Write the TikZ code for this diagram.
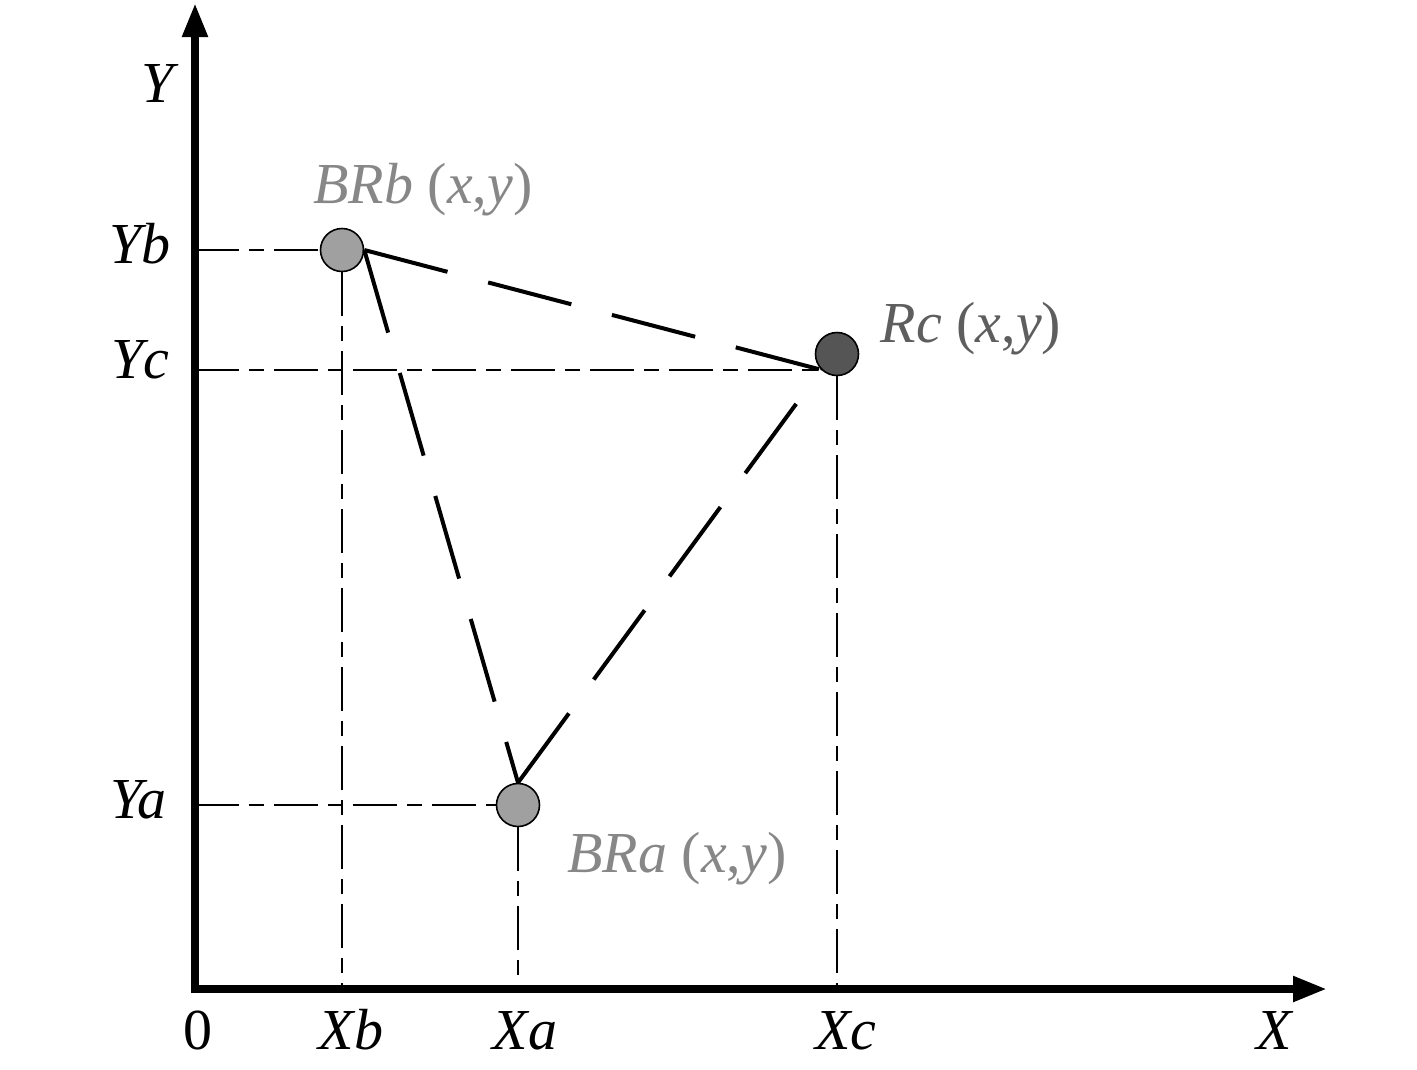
\documentclass[tikz,border=0pt]{standalone}
\usepackage{fontspec}
\setmainfont{Liberation Serif}
\usetikzlibrary{arrows.meta}
\definecolor{ptlight}{HTML}{A0A0A0}
\definecolor{ptdark}{HTML}{555555}
\definecolor{lblgray}{HTML}{878787}
\definecolor{lbldark}{HTML}{5E5E5E}
\begin{document}
\begin{tikzpicture}[x=1pt,y=-1pt,
  axisline/.style={line width=8pt, line join=miter},
  guide/.style={line width=2pt, dash pattern=on 44pt off 10pt on 15pt off 10pt},
  link/.style={line width=4pt, dash pattern=on 86pt off 42pt},
  pt/.style={circle, draw, line width=1.6pt, minimum size=43pt, inner sep=0pt},
  lbl/.style={font=\fontsize{58}{60}\selectfont, inner sep=0pt, anchor=base},
]
\useasboundingbox (0,0) rectangle (1417,1069);
\coordinate (O) at (195,989);
\coordinate (ytip) at (195,3);
\coordinate (xtip) at (1327,989);

\node[pt, fill=ptlight] (BRb) at (342,250) {};
\node[pt, fill=ptdark] (Rc) at (837,354) {};
\node[pt, fill=ptlight] (BRa) at (518,805) {};

% guide lines
\draw[guide] (O |- BRb) -- (BRb.west);
\draw[guide] (O |- Rc.225) -- (Rc.225);
\draw[guide] (O |- BRa) -- (BRa.west);
\draw[guide] (BRb.south) -- (BRb |- O);
\draw[guide] (BRa.south) -- (BRa |- O);
\draw[guide] (Rc.south) -- (Rc |- O);

% links
\draw[link] (BRb.east) -- (Rc.225);
\draw[link] (BRb.east) -- (BRa.north);
\draw[link] (BRa.north) -- (Rc.225);

% axes
\draw[axisline, {Triangle[length=34pt,width=24pt]}-{Triangle[length=34pt,width=24pt]}] (ytip) -- (O) -- (xtip);

% labels
\node[lbl] (ylab) at (160,102) {\textit{Y}};
\node[lbl] (yb) at (140,263) {\textit{Yb}};
\node[lbl] (yc) at (140,378) {\textit{Yc}};
\node[lbl] (ya) at (138,818) {\textit{Ya}};
\node[lbl] (zero) at (198,1049) {0};
\node[lbl] (xb) at (351,1049) {\textit{Xb}};
\node[lbl] (xa) at (525,1049) {\textit{Xa}};
\node[lbl] (xc) at (846,1049) {\textit{Xc}};
\node[lbl] (xlab) at (1275,1049) {\textit{X}};
\node[lbl, text=lblgray] (lbrb) at (423,203) {\textit{BRb} (\textit{x},\textit{y})};
\node[lbl, text=lbldark] (lrc) at (971,342) {\textit{Rc} (\textit{x},\textit{y})};
\node[lbl, text=lblgray] (lbra) at (677,872) {\textit{BRa} (\textit{x},\textit{y})};
\end{tikzpicture}
\end{document}
